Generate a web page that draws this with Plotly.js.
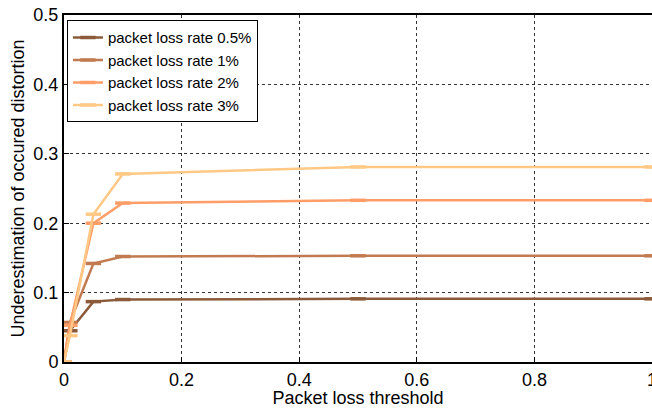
<!DOCTYPE html>
<html><head><meta charset="utf-8">
<script src="https://cdn.plot.ly/plotly-3.0.1.min.js"></script>
<style>html,body{margin:0;padding:0;overflow:hidden;background:#fff}</style>
</head><body><div id="c"></div>
<script>
const thresholds = [0, 0.01, 0.05, 0.1, 0.5, 1];
const rate05 = [0, 0.045, 0.087, 0.090, 0.091, 0.091];
const rate1  = [0, 0.057, 0.142, 0.152, 0.153, 0.153];
const rate2  = [0, 0.053, 0.200, 0.229, 0.233, 0.233];
const rate3  = [0, 0.038, 0.213, 0.271, 0.281, 0.281];
const names = ['packet loss rate 0.5%', 'packet loss rate 1%', 'packet loss rate 2%', 'packet loss rate 3%'];
const colors = ['#8b5a3a', '#c27b50', '#ff9d68', '#ffc985'];
const series = [rate05, rate1, rate2, rate3];

const traces = series.map((s, i) => ({
  x: thresholds, y: s, name: names[i], type: 'scatter', mode: 'lines+markers',
  line: {color: colors[i], width: 2.5},
  marker: {symbol: 'line-ew', size: 11, line: {color: colors[i], width: 3.5}}
}));

const axisFont = {family: 'Liberation Sans, Arial, sans-serif', size: 18, color: '#000'};
Plotly.newPlot('c', traces, {
  width: 664, height: 408,
  margin: {l: 64, r: 12, t: 15, b: 46},
  paper_bgcolor: '#fff', plot_bgcolor: '#fff',
  font: axisFont,
  showlegend: true,
  legend: {x: 0.005, y: 0.985, xanchor: 'left', yanchor: 'top',
    bgcolor: '#fff', bordercolor: '#000', borderwidth: 1,
    font: {family: 'Liberation Sans, Arial, sans-serif', size: 15, color: '#000'},
    tracegroupgap: 0, itemwidth: 30},
  xaxis: {range: [0, 1], tickvals: [0, 0.2, 0.4, 0.6, 0.8, 1], ticktext: ['0','0.2','0.4','0.6','0.8','1'],
    showgrid: true, gridcolor: '#333', griddash: 'dot', gridwidth: 1,
    zeroline: false, showline: true, linecolor: '#000', linewidth: 2, mirror: true,
    ticks: 'inside', ticklen: 5, tickcolor: '#000',
    tickfont: axisFont,
    title: {text: 'Packet loss threshold', font: axisFont, standoff: 0}},
  yaxis: {range: [0, 0.5], tickvals: [0, 0.1, 0.2, 0.3, 0.4, 0.5], ticktext: ['0','0.1','0.2','0.3','0.4','0.5'],
    showgrid: true, gridcolor: '#333', griddash: 'dot', gridwidth: 1,
    zeroline: false, showline: true, linecolor: '#000', linewidth: 2, mirror: true,
    ticks: 'inside', ticklen: 5, tickcolor: '#000',
    tickfont: axisFont,
    title: {text: 'Underestimation of occured distortion', font: axisFont, standoff: 4}}
}, {displayModeBar: false, staticPlot: true});
</script></body></html>
